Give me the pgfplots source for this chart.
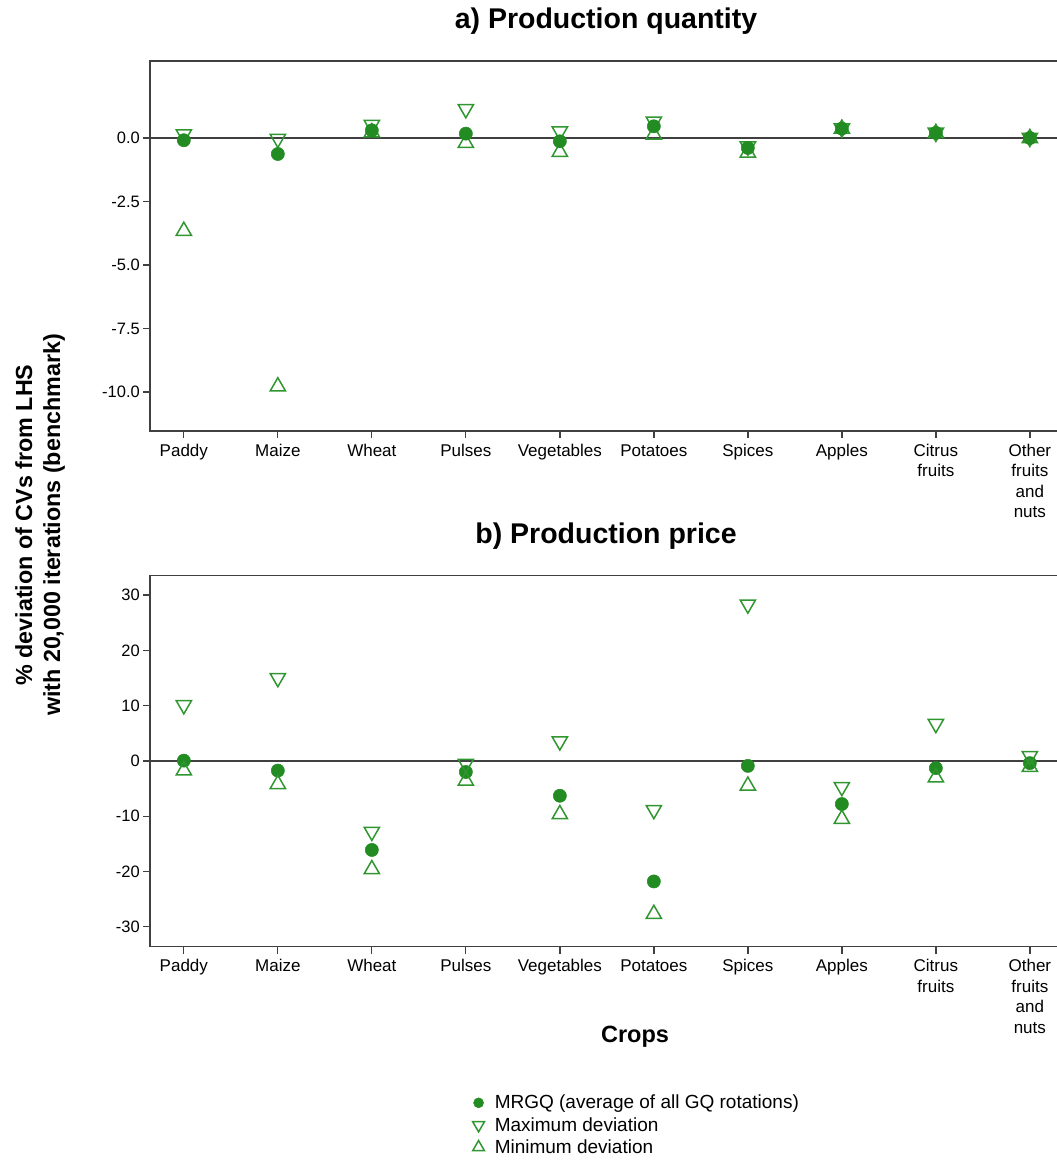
\documentclass[border=0pt]{standalone}
\usepackage{pgfplots}
\pgfplotsset{compat=1.18}
\usepackage{pgfplotstable}
\usepackage{fontspec}
\setmainfont{Liberation Sans}

\definecolor{meangreen}{RGB}{34,139,34}
\definecolor{trigreen}{RGB}{48,150,48}
\definecolor{spine}{RGB}{64,64,64}

% Production quantity: % deviation of CVs (mean, max, min)
\pgfplotstableread{
x mean max min
0 -0.09 0.15 -3.66
1 -0.63 -0.03 -9.78
2 0.30 0.52 0.22
3 0.17 1.14 -0.20
4 -0.13 0.26 -0.55
5 0.46 0.65 0.13
6 -0.39 -0.33 -0.58
7 0.37 0.38 0.36
8 0.20 0.21 0.19
9 0.00 0.01 -0.01
}\qtytable

% Production price: % deviation of CVs (mean, max, min)
\pgfplotstableread{
x mean max min
0 0.05 10.1 -1.75
1 -1.75 15.0 -4.2
2 -16.1 -12.8 -19.6
3 -2.0 -0.5 -3.6
4 -6.3 3.55 -9.65
5 -21.8 -8.86 -27.7
6 -0.9 28.3 -4.5
7 -7.8 -4.7 -10.5
8 -1.3 6.7 -3.0
9 -0.4 0.9 -1.1
}\pricetable

\pgfplotsset{
  cropaxis/.style={
    scale only axis,
    width=940bp,
    xmin=-0.36, xmax=9.64,
    xtick={0,...,9},
    xticklabels={\strut Paddy,\strut Maize,\strut Wheat,\strut Pulses,\strut Vegetables,\strut Potatoes,\strut Spices,\strut Apples,{\strut Citrus\\fruits},{\strut Other\\fruits\\and\\nuts}},
    tick align=outside,
    tick pos=left,
    major tick length=7bp,
    tick style={spine, line width=1.3bp},
    axis line style={spine, line width=1.5bp},
    axis lines=box,
    clip=false,
    /pgf/number format/assume math mode=true,
    xticklabel style={font=\fontsize{17bp}{20.5bp}\selectfont, align=center, inner sep=0bp, yshift=-3.5bp},
    yticklabel style={font=\fontsize{16.5bp}{18bp}\selectfont, inner sep=3bp},
  },
  meanplot/.style={only marks, mark=*, mark size=6.6bp, color=meangreen,
    mark options={fill=meangreen, draw=meangreen, line width=0.5bp}},
  maxplot/.style={only marks, mark=triangle, mark size=8.8bp, color=trigreen,
    mark options={rotate=180, line width=1.5bp, fill=none}},
  minplot/.style={only marks, mark=triangle, mark size=8.8bp, color=trigreen,
    mark options={line width=1.5bp, fill=none}},
  meanlegend/.style={legend image code/.code={%
    \path (-7bp,0bp) (14bp,0bp);
    \draw[##1, mark size=5bp] plot coordinates {(0bp,0bp)};}},
  trilegend/.style={legend image code/.code={%
    \path (-7bp,0bp) (14bp,0bp);
    \draw[##1, mark size=6.8bp] plot coordinates {(0bp,0bp)};}},
}

\begin{document}
\begin{tikzpicture}[x=1bp,y=1bp]
\useasboundingbox (0,0) rectangle (1057,1161);

% a) Production quantity
\begin{axis}[cropaxis,
  at={(150bp,730bp)}, anchor=south west,
  height=370bp,
  ymin=-11.53, ymax=3.03,
  ytick={-10,-7.5,-5,-2.5,0},
  yticklabel style={/pgf/number format/.cd, fixed, fixed zerofill, precision=1},
]
  \draw[spine, line width=1.5bp] (axis cs:-0.36,0) -- (axis cs:9.64,0);
  \addplot[maxplot] table[x=x, y=max] {\qtytable};
  \addplot[minplot] table[x=x, y=min] {\qtytable};
  \addplot[meanplot] table[x=x, y=mean] {\qtytable};
\end{axis}

% b) Production price
\begin{axis}[cropaxis,
  at={(150bp,214.3bp)}, anchor=south west,
  height=371bp,
  ymin=-33.6, ymax=33.5,
  ytick={-30,-20,...,30},
  legend style={at={(0.3385,-0.389)}, anchor=north west, draw=none, fill=none,
    font=\fontsize{19bp}{21bp}\selectfont, row sep=3bp},
  legend cell align=left,
]
  \draw[spine, line width=1.5bp] (axis cs:-0.36,0) -- (axis cs:9.64,0);
  \addplot[meanplot, meanlegend] table[x=x, y=mean] {\pricetable};
  \addplot[maxplot, trilegend] table[x=x, y=max] {\pricetable};
  \addplot[minplot, trilegend] table[x=x, y=min] {\pricetable};
  \legend{MRGQ (average of all GQ rotations), Maximum deviation, Minimum deviation}
\end{axis}

% titles and shared labels
\node[font=\fontsize{28.5bp}{32bp}\selectfont\bfseries] at (606,1140) {a) Production quantity};
\node[font=\fontsize{28.5bp}{32bp}\selectfont\bfseries] at (606,625) {b) Production price};
\node[font=\fontsize{23.3bp}{28bp}\selectfont\bfseries, rotate=90, align=center] at (40,636)
  {\% deviation of CVs from LHS\\with 20,000 iterations (benchmark)};
\node[font=\fontsize{23.5bp}{26bp}\selectfont\bfseries] at (635,124) {Crops};
\end{tikzpicture}
\end{document}
